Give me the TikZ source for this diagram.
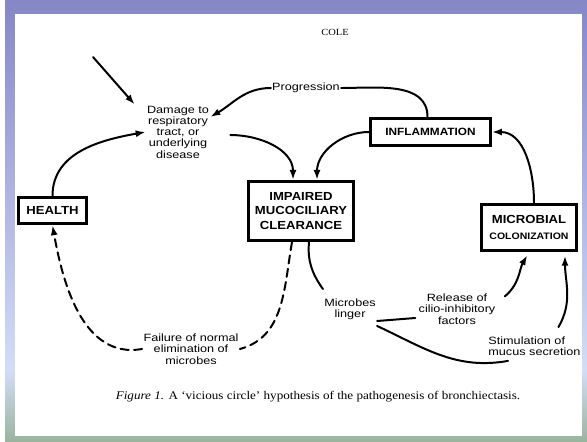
\documentclass[tikz,border=0pt]{standalone}
\usepackage{fontspec}
\usepackage{tikz}
\usetikzlibrary{arrows.meta, positioning, calc}
\newfontfamily\diafont[FakeStretch=1.2]{Liberation Sans}
\newfontfamily\boxfont[FakeStretch=1.12]{Liberation Sans}
\newfontfamily\capfont[FakeStretch=1.12]{Liberation Serif}
\definecolor{frametop}{HTML}{8587C6}
\definecolor{framemid}{HTML}{D3DDF7}
\definecolor{framebot}{HTML}{9AB49E}

\begin{document}
\begin{tikzpicture}[x=0.03cm, y=0.03cm,
    stage/.style={rectangle, draw=black, line width=2.4pt, fill=white,
                  align=center, inner sep=1pt,
                  font=\boxfont\bfseries\fontsize{10}{12.5}\selectfont},
    note/.style={align=center, inner sep=1pt,
                 font=\diafont\fontsize{9}{9.6}\selectfont},
    link/.style={line width=1.7pt, line cap=round},
    arrow/.style={link, -{Latex[length=8.5pt, width=6pt]}},
]
% slide frame
\fill[white] (0,0) rectangle (587,-441);
\shade[top color=frametop, bottom color=framemid] (5,0) rectangle (587,-370);
\shade[top color=framemid, bottom color=framebot] (5,-370) rectangle (587,-441);
\fill[white] (15,-14) rectangle (582,-436);

\begin{scope}
\clip (15,-14) rectangle (582,-436);
\node[font=\capfont\fontsize{8}{9}\selectfont] (cole) at (335,-32) {COLE};

\node[note] (damage) at (178,-132) {Damage to\\respiratory\\tract, or\\underlying\\disease};
\node[note] (prog) at (306,-88) {Progression};
\node[stage, minimum width=3.6cm, minimum height=0.82cm,
      font=\boxfont\bfseries\fontsize{9}{11}\selectfont] (infl) at (430.5,-132) {INFLAMMATION};
\node[stage, minimum width=3.15cm, minimum height=1.78cm] (impaired) at (301,-211)
      {IMPAIRED\\MUCOCILIARY\\CLEARANCE};
\node[stage, minimum width=2.05cm, minimum height=0.8cm] (health) at (52.5,-210.5) {HEALTH};
\node[stage, minimum width=2.85cm, minimum height=1.4cm] (microbial) at (529,-227.5)
      {MICROBIAL\\[1pt]{\fontsize{8}{9}\selectfont COLONIZATION}};
\node[note] (linger) at (350,-309) {Microbes\\linger};
\node[note] (release) at (457,-309) {Release of\\cilio-inhibitory\\factors};
\node[note, anchor=west, align=left] (stim) at (487,-346) {Stimulation of\\mucus secretion};
\node[note] (fail) at (191,-349) {Failure of normal\\elimination of\\microbes};
\node[font=\capfont\fontsize{10}{11}\selectfont] (caption) at (318,-397)
      {\textit{Figure 1.} A ‘vicious circle’ hypothesis of the pathogenesis of bronchiectasis.};

\coordinate (hit) at (93,-57);
\draw[arrow] (hit) -- ($(damage.north west)+(-11,0)$);
\draw[arrow] (prog.west) to[out=180, in=30] (damage.25);
\draw[link] (prog.east) to[out=0, in=90] ($(infl.north)+(-3,0)$);
\draw[arrow] (infl.west) to[out=180, in=90] ($(impaired.north)+(16,0)$);
\draw[arrow] ($(damage.east)+(20,-3)$) to[out=0, in=90] ($(impaired.north)+(-8,0)$);
\draw[arrow] (health.north) to[out=90, in=190] (damage.west);
\draw[arrow] ($(microbial.north)+(5,0)$) to[out=90, in=0] (infl.east);

\draw[link] ($(impaired.south)+(8,0)$) to[out=-95, in=125] ($(linger.north west)+(0,8)$);
\draw[link] ($(linger.east)+(0,-12)$) -- ($(release.west)+(-2,-9)$);
\draw[arrow, shorten >=3pt] ($(release.north east)+(8,-4)$) to[out=40, in=-120] (microbial.south);
\draw[arrow, shorten >=3pt] ($(stim.north)+(24,8)$) to[out=60, in=-90] ($(microbial.south)+(36,0)$);
\draw[link] ($(linger.south east)+(0,-5)$) to[out=-25, in=190] ($(stim.south west)+(21,-4)$);

\draw[link, dash pattern=on 7pt off 4.5pt] ($(impaired.south)+(-9,0)$) to[out=-100, in=15] (fail.east);
\draw[arrow, dash pattern=on 7pt off 4.5pt] (fail.west) to[out=190, in=-80] (health.south);
\end{scope}
\end{tikzpicture}
\end{document}
